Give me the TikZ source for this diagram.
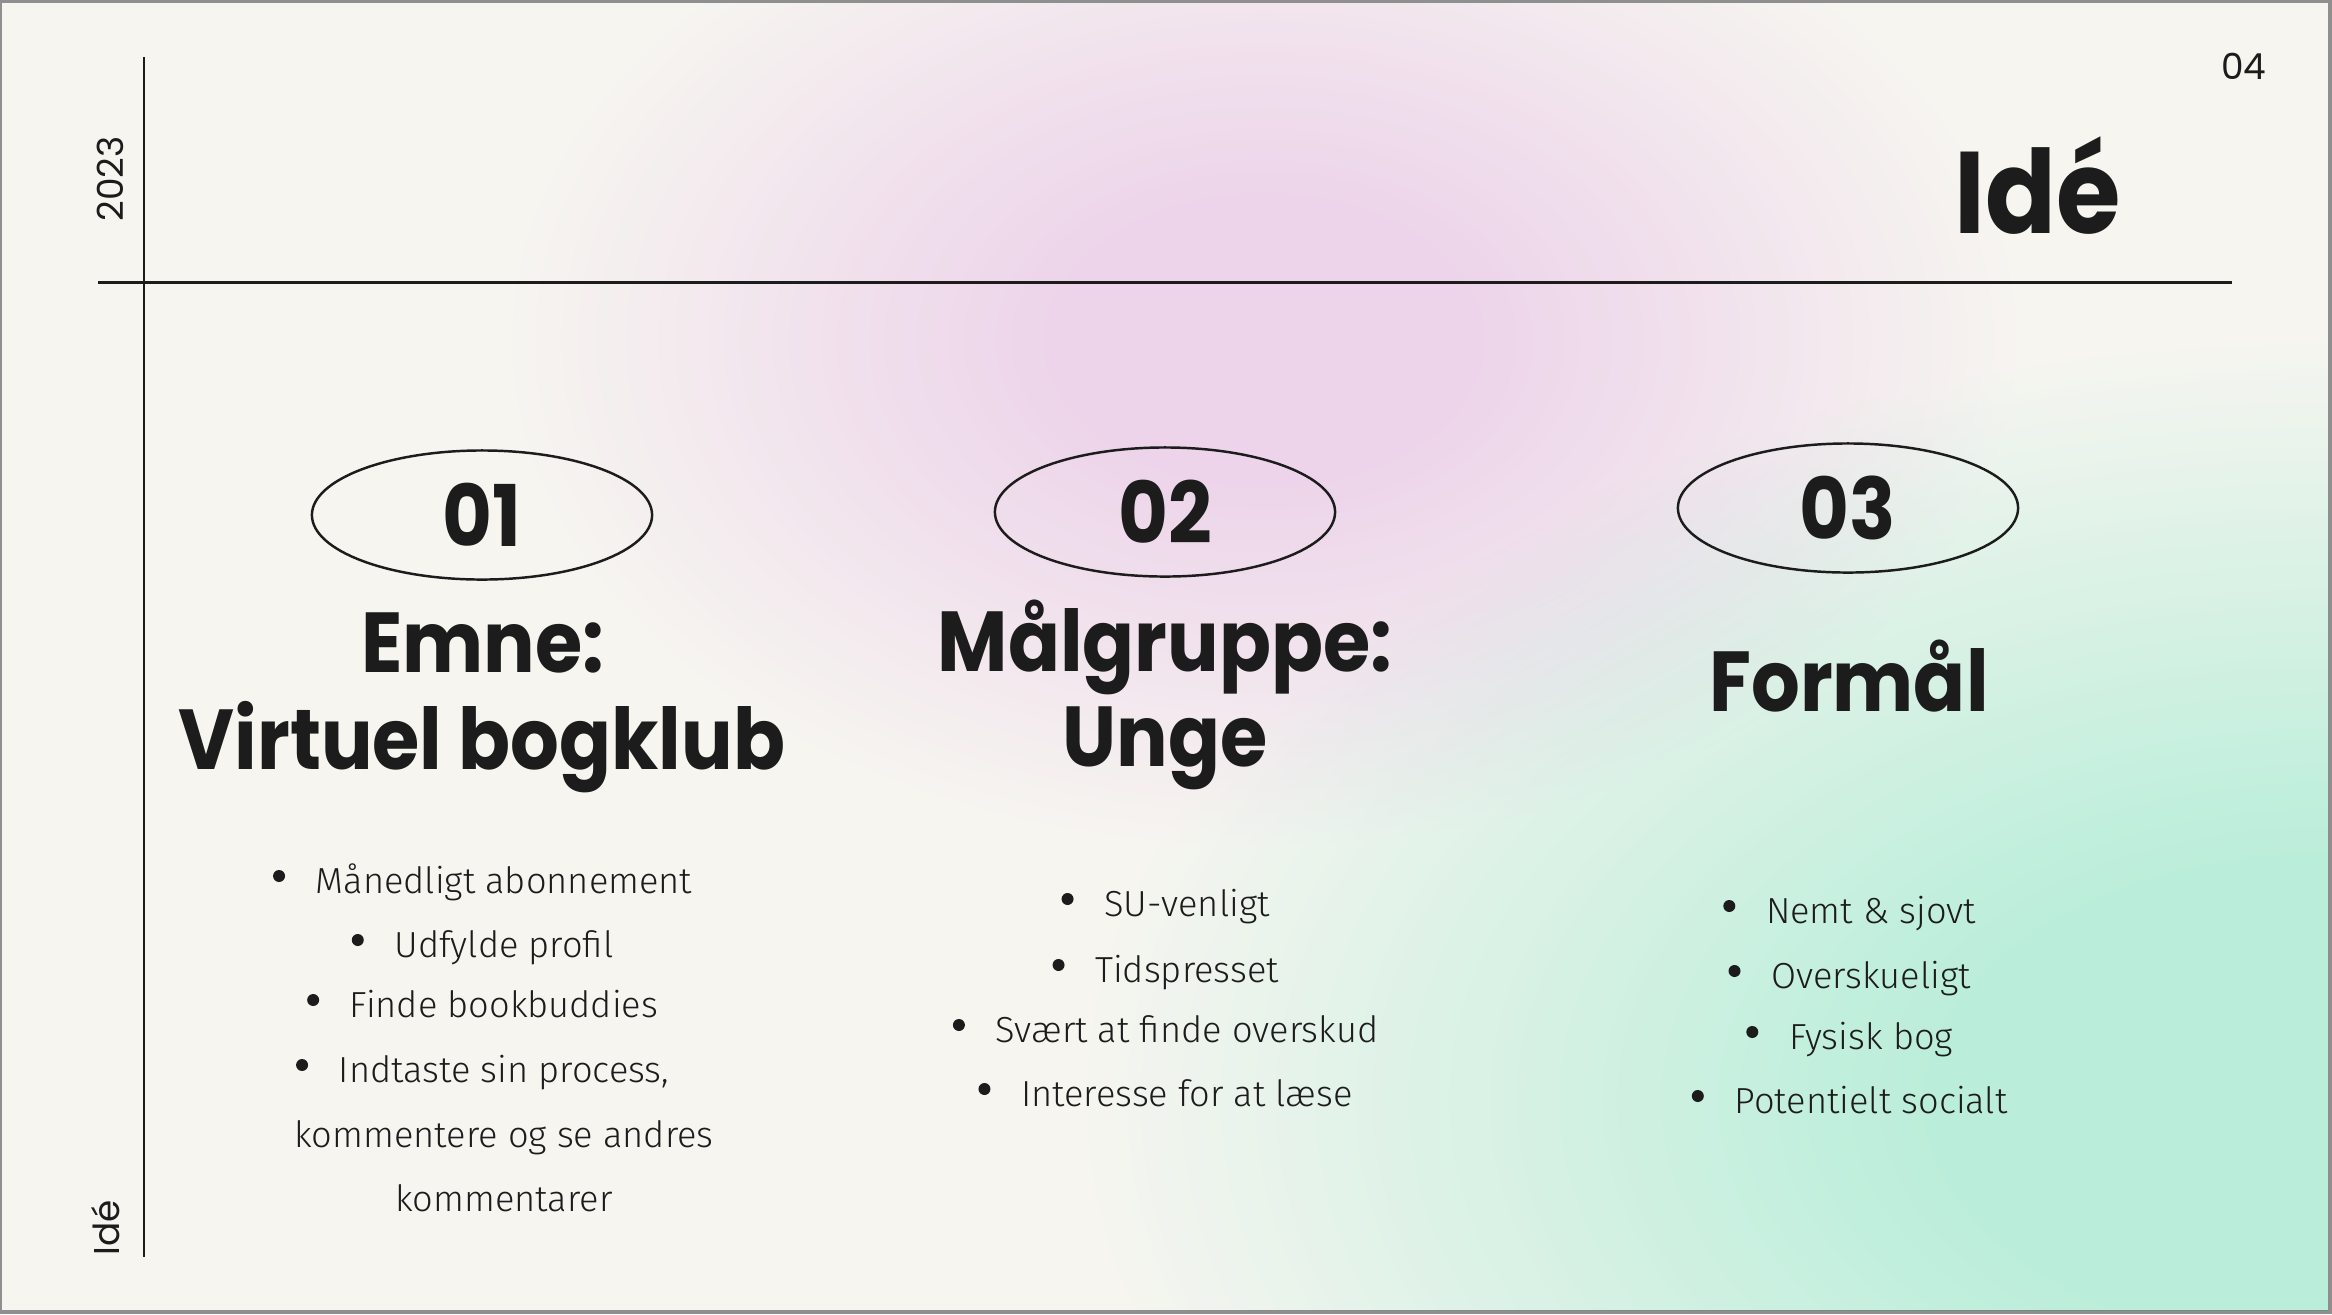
\documentclass[tikz,border=0pt]{standalone}
\usepackage{fontspec}
\usetikzlibrary{shapes.geometric}
\newfontfamily\bodyfont{Fira Sans Light}
\newfontfamily\headfont{Poppins}[FakeStretch=0.9]
\newfontfamily\labelfont{Poppins}
\definecolor{bgc}{HTML}{F6F5F0}
\definecolor{pinkm}{HTML}{F6DDF9}
\definecolor{greenm}{HTML}{C2F8E8}
\definecolor{framec}{HTML}{8F8F8F}
\definecolor{inkc}{HTML}{1C1C1C}
\pgfdeclareradialshading{pinkblob}{\pgfpointorigin}{color(0bp)=(pinkm); color(7bp)=(pinkm); color(15bp)=(pinkm!55!white); color(25bp)=(white); color(50bp)=(white)}
\pgfdeclareradialshading{greenblob}{\pgfpointorigin}{color(0bp)=(greenm); color(8bp)=(greenm); color(16bp)=(greenm!55!white); color(25bp)=(white); color(50bp)=(white)}
\begin{document}
\begin{tikzpicture}[x=0.01cm,y=-0.01cm,
  rule/.style={draw=inkc, line width=0.85pt},
  numell/.style={draw=inkc, line width=0.7pt, ellipse, inner sep=0pt, minimum width=3.4cm, minimum height=1.29cm, text=inkc, font=\headfont\bfseries\fontsize{24.2}{29}\selectfont},
  head/.style={anchor=base, inner sep=0pt, text=inkc, font=\headfont\bfseries\fontsize{24.2}{29}\selectfont},
  item/.style={anchor=base, inner sep=0pt, text=inkc, font=\bodyfont\fontsize{10.3}{12}\selectfont},
  lbl/.style={inner sep=0pt, text=inkc, font=\labelfont\fontsize{10.2}{12}\selectfont}]
\useasboundingbox (0,0) rectangle (2332,1314);
\fill[framec] (0,0) rectangle (2332,1314);
\fill[bgc] (2,3) rectangle (2328,1310);
\begin{scope}
  \clip (2,3) rectangle (2328,1310);
  \begin{scope}[blend mode=multiply]
    \shade[shading=pinkblob] (1264,340) ellipse [x radius=760, y radius=510];
    \shade[shading=greenblob] (2330,1100) ellipse [x radius=1250, y radius=760];
  \end{scope}
\end{scope}
% frame lines
\draw[rule] (144,57) -- (144,1257);
\draw[rule] (98,282) -- (2232,282);
% side labels
\node[lbl, rotate=90] (year) at (110,179) {2023};
\node[lbl, rotate=90] (side) at (106,1228) {Idé};
\node[lbl] (page) at (2244,66) {04};
\node[head, font=\headfont\bfseries\fontsize{33}{38}\selectfont] (title) at (2038,233) {Idé};
% numbers
\node[numell] (n1) at (482,515) {01};
\node[numell] (n2) at (1165,512) {02};
\node[numell] (n3) at (1848,508) {03};
% headings
\node[head] (h1a) at (483,672) {Emne:};
\node[head] (h1b) at (482,769) {Virtuel bogklub};
\node[head] (h2a) at (1165,671) {Målgruppe:};
\node[head] (h2b) at (1165,766) {Unge};
\node[head] (h3) at (1849,711) {Formål};
% column 1
\node[item] (a1) at (504,893) {Månedligt abonnement};
\node[item] (a2) at (504,957) {Udfylde profil};
\node[item] (a3) at (504,1017) {Finde bookbuddies};
\node[item] (a4) at (504,1082) {Indtaste sin process,};
\node[item] (a5) at (504,1147) {kommentere og se andres};
\node[item] (a6) at (504,1211) {kommentarer};
% column 2
\node[item] (b1) at (1187,916) {SU-venligt};
\node[item] (b2) at (1187,982) {Tidspresset};
\node[item] (b3) at (1187,1042) {Svært at finde overskud};
\node[item] (b4) at (1187,1106) {Interesse for at læse};
% column 3
\node[item] (c1) at (1871,923) {Nemt \& sjovt};
\node[item] (c2) at (1871,988) {Overskueligt};
\node[item] (c3) at (1871,1049) {Fysisk bog};
\node[item] (c4) at (1871,1113) {Potentielt socialt};
% bullets
\foreach \n in {a1,a2,a3,a4,b1,b2,b3,b4,c1,c2,c3,c4}
  \fill[inkc] (\n.base west) ++(-36,-17) circle [radius=6];
\end{tikzpicture}
\end{document}
